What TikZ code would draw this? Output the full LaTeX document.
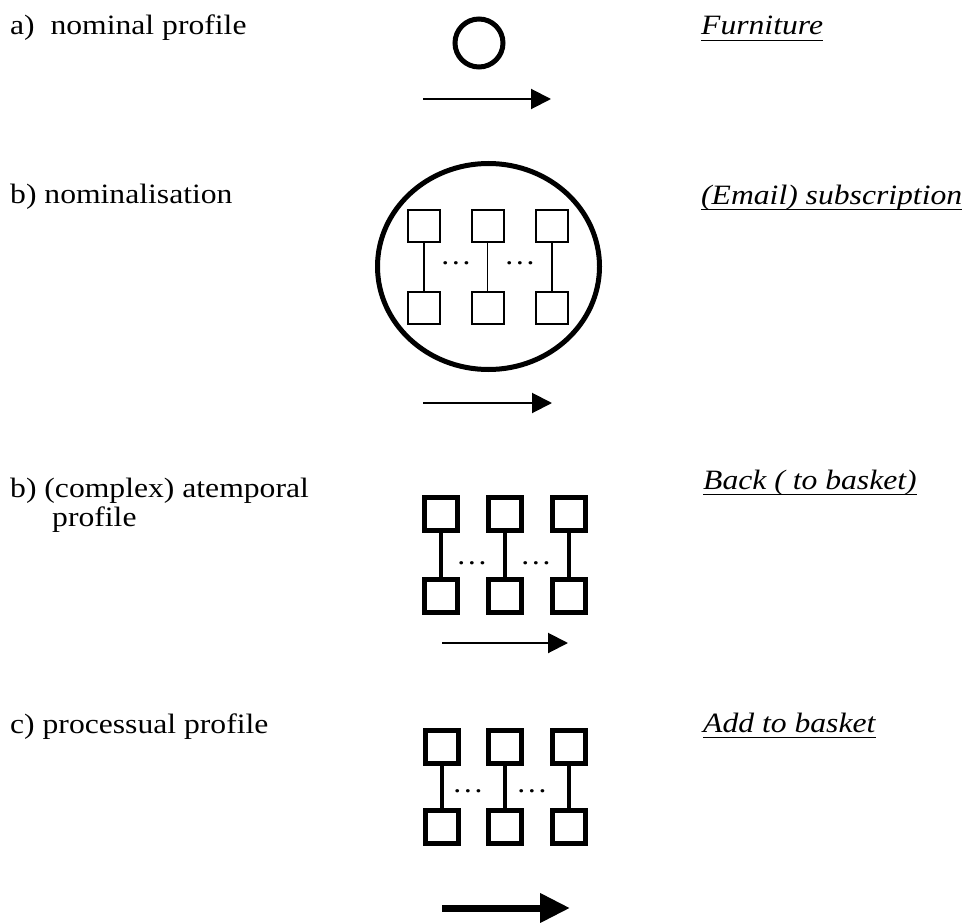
\documentclass[tikz,border=0pt]{standalone}
\usepackage{fontspec}
\setmainfont{Liberation Serif}[FakeStretch=1.13]
\usetikzlibrary{shapes.geometric,arrows.meta}
\begin{document}
\begin{tikzpicture}[x=1pt,y=-1pt,
  lbl/.style={anchor=base west,inner sep=0,font=\fontsize{28}{30}\selectfont},
  ex/.style={anchor=base west,inner sep=0,font=\fontsize{28}{30}\selectfont\itshape},
  uline/.style={line width=1.5pt},
  thinbox/.style={draw,line width=2pt,minimum size=32pt,inner sep=0},
  thickbox/.style={draw,line width=5pt,minimum size=33pt,inner sep=0},
  thinlink/.style={line width=1.5pt},
  thicklink/.style={line width=4pt},
  dotsnode/.style={anchor=base,inner sep=0,font=\fontsize{28}{30}\selectfont},
  arr/.style={line width=2pt,-{Triangle[length=20pt,width=20pt]}},
  bigarr/.style={line width=7pt,-{Triangle[length=30pt,width=28pt]}}
]
\useasboundingbox (0,0) rectangle (966,923);

% left labels
\node[lbl] (la) at (10,35) {a)~ nominal profile};
\node[lbl] (lb) at (10,203) {b) nominalisation};
\node[lbl] (lc) at (10,497) {b) (complex) atemporal};
\node[lbl] (lc2) at (52,526) {profile};
\node[lbl] (ld) at (10,733) {c) processual profile};

% right examples
\node[ex] (ea) at (701,35) {Furniture};
\node[ex] (eb) at (701,204) {(Email) subscription};
\node[ex] (ec) at (703,489) {Back ( to basket)};
\node[ex] (ed) at (703,732) {Add to basket};
\foreach \n in {ea,eb,ec,ed}
  \draw[uline] ([yshift=-5.5pt]\n.base west) -- ([yshift=-5.5pt]\n.base east);

% a) nominal profile
\node[circle,draw,line width=5pt,minimum size=48pt,inner sep=0] (ca) at (479,43) {};
\coordinate (a0) at (423,99);
\coordinate (a1) at (551,99);
\draw[arr] (a0) -- (a1);

% b) nominalisation
\node[ellipse,draw,line width=5pt,minimum width=222pt,minimum height=206pt,inner sep=0] (eb0) at (488.5,266.5) {};
\node[thinbox] (bt1) at (424,225.5) {};
\node[thinbox] (bt2) at (487.5,225.5) {};
\node[thinbox] (bt3) at (552,225.5) {};
\node[thinbox] (bb1) at (424,308) {};
\node[thinbox] (bb2) at (487.5,308) {};
\node[thinbox] (bb3) at (552,308) {};
\foreach \i in {1,2,3} \draw[thinlink] (bt\i.south) -- (bb\i.north);
\node[dotsnode] (bd1) at (456,264) {…};
\node[dotsnode] (bd2) at (520,264) {…};
\coordinate (b0) at (423,403);
\coordinate (b1) at (552,403);
\draw[arr] (b0) -- (b1);

% c) complex atemporal profile
\node[thickbox] (ct1) at (441,514) {};
\node[thickbox] (ct2) at (505,514) {};
\node[thickbox] (ct3) at (568.5,514) {};
\node[thickbox] (cb1) at (441,596) {};
\node[thickbox] (cb2) at (505,596) {};
\node[thickbox] (cb3) at (568.5,596) {};
\foreach \i in {1,2,3} \draw[thicklink] (ct\i.south) -- (cb\i.north);
\node[dotsnode] (cd1) at (472,564) {…};
\node[dotsnode] (cd2) at (536,564) {…};
\coordinate (c0) at (442,643);
\coordinate (c1) at (568,643);
\draw[arr] (c0) -- (c1);

% d) processual profile
\node[thickbox] (dt1) at (441.5,747) {};
\node[thickbox] (dt2) at (505,747) {};
\node[thickbox] (dt3) at (568.5,747) {};
\node[thickbox] (db1) at (441.5,827) {};
\node[thickbox] (db2) at (505,827) {};
\node[thickbox] (db3) at (568.5,827) {};
\foreach \i in {1,2,3} \draw[thicklink] (dt\i.south) -- (db\i.north);
\node[dotsnode] (dd1) at (468,792) {…};
\node[dotsnode] (dd2) at (532,792) {…};
\coordinate (d0) at (442,908);
\coordinate (d1) at (570,908);
\draw[bigarr] (d0) -- (d1);
\end{tikzpicture}
\end{document}
